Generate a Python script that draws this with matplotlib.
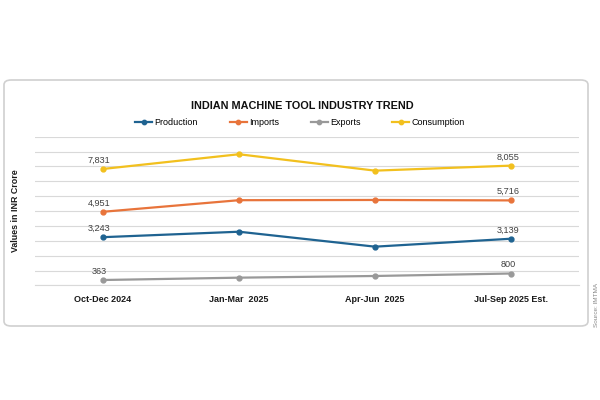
import matplotlib
matplotlib.use("Agg")
import matplotlib.pyplot as plt
from matplotlib.patches import FancyBboxPatch
import numpy as np

plt.rcParams['font.family'] = ['Liberation Sans', 'DejaVu Sans']

categories = ["Oct-Dec 2024", "Jan-Mar  2025", "Apr-Jun  2025", "Jul-Sep 2025 Est."]
production = [3243, 3610, 2605, 3139]
imports = [4951, 5730, 5745, 5716]
exports = [363, 520, 633, 800]
consumption = [7831, 8820, 7717, 8055]

series = [
    ("Production", production, "#1F6391"),
    ("Imports", imports, "#E8743B"),
    ("Exports", exports, "#999999"),
    ("Consumption", consumption, "#F2C01E"),
]

fig = plt.figure(figsize=(6, 4), dpi=100)
fig.patch.set_facecolor("white")

# border
border = FancyBboxPatch((4 / 600, 1 - 326 / 400), (588 - 4) / 600, (326 - 80) / 400,
                        boxstyle="round,pad=0,rounding_size=0.012",
                        transform=fig.transFigure, facecolor="none",
                        edgecolor="#D0D0D0", linewidth=1.2, zorder=0)
fig.patches.append(border)

ax = fig.add_axes([35 / 600, 1 - 285.4 / 400, (579 - 35) / 600, (285.4 - 136.7) / 400])
ax.set_facecolor("none")
ax.set_zorder(2)
x = np.arange(len(categories))
for name, vals, col in series:
    ax.plot(x, vals, color=col, lw=1.6, marker="o", ms=3.5, label=name, zorder=3)

ax.set_xlim(-0.5, 3.5)
ax.set_ylim(0, 10000)
ax.set_yticks(np.arange(0, 10001, 1000))
ax.set_yticklabels([])
ax.tick_params(axis="y", length=0)
ax.grid(axis="y", color="#D9D9D9", lw=0.8)
ax.axhline(0, color="#D9D9D9", lw=0.8, clip_on=False, zorder=0.5)
ax.set_axisbelow(True)
for s in ax.spines.values():
    s.set_visible(False)
ax.set_xticks(x)
ax.set_xticklabels(categories, fontsize=6.5, fontweight="bold", color="#1a1a1a")
ax.tick_params(axis="x", length=0, pad=7)

# data labels at first and last point
for name, vals, col in series:
    for i in (0, len(vals) - 1):
        dx = -3 if i == 0 else -2
        ax.annotate(f"{vals[i]:,}", (x[i], vals[i]), xytext=(dx, 3), textcoords="offset points",
                    ha="center", va="bottom", fontsize=6.6, color="#404040")

ax.set_ylabel("Values in INR Crore", fontsize=6.4, fontweight="bold", color="#1a1a1a")
ax.yaxis.set_label_coords(-0.027, 0.5)

fig.text(302 / 600, 1 - 105.7 / 400, "INDIAN MACHINE TOOL INDUSTRY TREND", ha="center", va="center",
         fontsize=7.8, fontweight="bold", color="#111111")

leg = fig.legend(loc="center", bbox_to_anchor=(300 / 600, 1 - 122.7 / 400), ncol=4, frameon=False,
                 fontsize=6.5, handlelength=1.9, columnspacing=3.5, handletextpad=0.25,
                 markerscale=0.9)

fig.text(596 / 600, 1 - 305 / 400, "Source: IMTMA", rotation=90, ha="center", va="center",
         fontsize=4.6, color="#888888")

fig.savefig("out.png", dpi=100, facecolor="white")
